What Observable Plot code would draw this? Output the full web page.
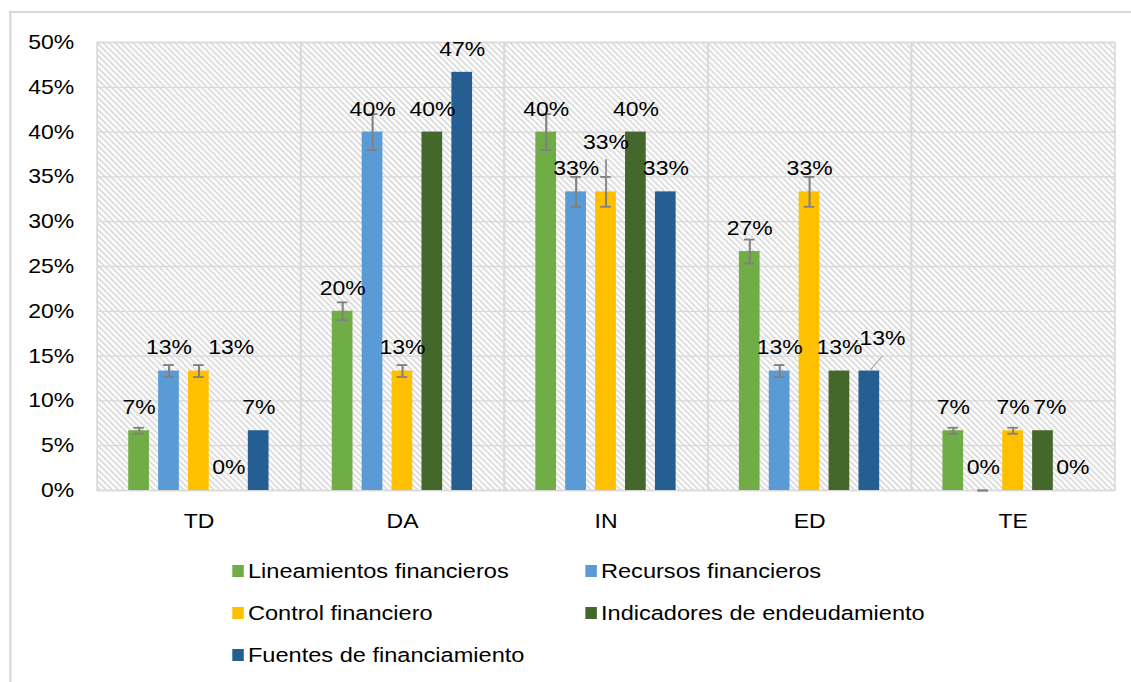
<!DOCTYPE html>
<html><head><meta charset="utf-8">
<script src="https://cdn.jsdelivr.net/npm/d3@7"></script>
<script src="https://cdn.jsdelivr.net/npm/@observablehq/plot@0.6"></script>
<style>
html,body{margin:0;padding:0;background:#fff;overflow:hidden;width:1131px;height:682px}
#stage{position:absolute;left:0;top:0;width:983.5px;height:682px;transform:scaleX(1.15);transform-origin:0 0;font-family:"Liberation Sans",Arial,sans-serif;}
#border{position:absolute;left:7.8px;top:11px;width:1000px;height:700px;border-left:2px solid #d9d9d9;border-top:2px solid #d9d9d9}
#chart{position:absolute;left:0;top:0}
#legend{position:absolute;left:201.7px;top:559px;display:grid;grid-template-columns:307px 307px;grid-auto-rows:42px;}
.item{display:flex;align-items:center;height:24px;line-height:24px;font-size:20.5px;color:#000;white-space:nowrap}
.sw{width:10.4px;height:12px;margin-right:3.5px;flex:none}
</style>
</head><body>
<div id="stage"><div id="border"></div><div id="chart"></div><div id="legend"></div></div>
<script>
// ---- data ----
const categories = ["TD", "DA", "IN", "ED", "TE"];
const series = ["Lineamientos financieros", "Recursos financieros", "Control financiero", "Indicadores de endeudamiento", "Fuentes de financiamiento"];
const lineamientos = [6.67, 20, 40, 26.67, 6.67];
const recursos = [13.33, 40, 33.33, 13.33, 0];
const control = [13.33, 13.33, 33.33, 33.33, 6.67];
const indicadores = [0, 40, 40, 13.33, 6.67];
const fuentes = [6.67, 46.67, 33.33, 13.33, 0];
const yTicks = [0, 5, 10, 15, 20, 25, 30, 35, 40, 45, 50];
const colors = ["#70AD47", "#5B9BD5", "#FFC000", "#44682C", "#255E91"];
const errorSeries = [series[0], series[1], series[2]];
const errorPct = 0.05; // percentage error bars

// ---- label adjustments (styling) ----
const labelNudges = [
  {cat: "TD", series: series[2], dx: 28, dy: 0},
  {cat: "IN", series: series[2], dx: 0, dy: -26, leaderLength: 32, leaderAngle: 0, leaderColor: "#8c8c8c", leaderWidth: 1.5},
  {cat: "ED", series: series[4], dx: 11.3, dy: -9, leaderLength: 18.8, leaderAngle: 37, leaderColor: "#a6a6a6", leaderWidth: 1},
  {cat: "TE", series: series[3], dx: 6, dy: 0}
];

const valuesBySeries = [lineamientos, recursos, control, indicadores, fuentes];
const data = categories.flatMap((cat, i) => series.map((s, j) => ({cat, series: s, value: valuesBySeries[j][i]})));
const errData = data.filter(d => errorSeries.includes(d.series))
  .map(d => ({...d, lo: d.value * (1 - errorPct), hi: d.value * (1 + errorPct)}));
const nudgeOf = d => labelNudges.find(n => n.cat === d.cat && n.series === d.series);
const fmt = d => Math.round(d.value) + "%";
const defaultLabels = data.filter(d => !nudgeOf(d));
const leaderData = labelNudges.filter(n => n.leaderLength).map(n => ({...n, value: data.find(d => d.cat === n.cat && d.series === n.series).value}));
const lineShape = {draw(context, l) { context.moveTo(0, 0); context.lineTo(0, -l); }};

const errStyle = {stroke: "#808080", strokeWidth: 1.8};
const marks = [
  Plot.frame({fill: "url(#hatch)"}),
  Plot.ruleY(yTicks, {stroke: "#d9d9d9", strokeWidth: 1.3}),
  Plot.frame({stroke: "#d9d9d9", strokeWidth: 1.5}),
  Plot.barY(data, {fx: "cat", x: "series", y: "value", fill: "series"}),
  Plot.ruleX(errData, {fx: "cat", x: "series", y1: "lo", y2: "hi", ...errStyle}),
  Plot.tickY(errData, {fx: "cat", x: "series", y: "lo", insetLeft: 4.4, insetRight: 4.4, ...errStyle}),
  Plot.tickY(errData, {fx: "cat", x: "series", y: "hi", insetLeft: 4.4, insetRight: 4.4, ...errStyle}),
  ...leaderData.map(n => Plot.vector([n], {fx: "cat", x: "series", y: "value", length: n.leaderLength, rotate: n.leaderAngle,
      anchor: "start", shape: lineShape, stroke: n.leaderColor, strokeWidth: n.leaderWidth})),
  Plot.text(defaultLabels, {fx: "cat", x: "series", y: "value", text: fmt, dy: -23, fontSize: 20, fill: "#000"}),
  ...labelNudges.map(n => Plot.text(data.filter(d => d.cat === n.cat && d.series === n.series),
      {fx: "cat", x: "series", y: "value", text: fmt, dx: n.dx, dy: -23 + n.dy, fontSize: 20, fill: "#000"}))
];

const chart = Plot.plot({
  width: 983.5, height: 545,
  marginLeft: 83.5, marginRight: 14, marginTop: 42, marginBottom: 55,
  style: {fontFamily: '"Liberation Sans", Arial, sans-serif', fontSize: "20px", color: "#000", background: "transparent", overflow: "visible"},
  fx: {domain: categories, padding: 0, axis: "bottom", tickSize: 0, tickPadding: 23, label: null},
  x: {domain: series, paddingInner: 0.32, paddingOuter: 0.95, axis: null},
  y: {domain: [0, 50], ticks: 10, tickFormat: d => d + "%", tickSize: 0, tickPadding: 20, label: null},
  color: {domain: series, range: colors},
  marks
});

const defs = d3.select(chart).insert("defs", ":first-child");
const pat = defs.append("pattern").attr("id", "hatch").attr("patternUnits", "userSpaceOnUse")
  .attr("width", 5.2).attr("height", 6);
pat.append("rect").attr("width", 5.2).attr("height", 6).attr("fill", "#fff");
pat.append("path").attr("d", "M-1.3,-1.5L6.5,7.5M-1.3,4.5L1.3,7.5M3.9,-1.5L6.5,1.5")
  .attr("stroke", "#d2d2d2").attr("stroke-width", 1.4).attr("fill", "none");
document.getElementById("chart").appendChild(chart);

const legend = d3.select("#legend");
series.forEach((s, i) => {
  const it = legend.append("div").attr("class", "item");
  it.append("div").attr("class", "sw").style("background", colors[i]);
  it.append("span").text(s);
});
</script>
</body></html>
